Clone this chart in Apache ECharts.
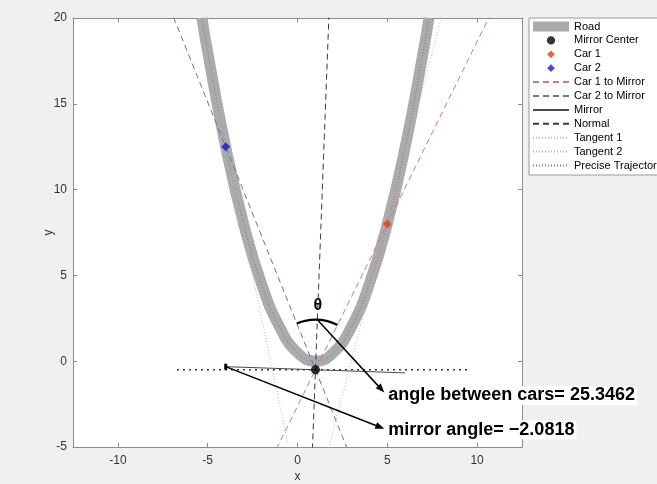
<!DOCTYPE html>
<html>
<head>
<meta charset="utf-8">
<script src="https://cdn.jsdelivr.net/npm/echarts@6/dist/echarts.min.js"></script>
<style>
  html, body { margin: 0; padding: 0; background: #f0f0f0; }
  #chart { width: 657px; height: 484px; }
</style>
</head>
<body>
<div id="chart"></div>
<script>
// Axis ticks
const xTicks = [-10, -5, 0, 5, 10];
const yTicks = [-5, 0, 5, 10, 15, 20];

// Road centre line (also the precise trajectory)
const roadX = [-5.32, -5, -4, -3, -2, -1, 0, 1, 2, 3, 4, 5, 6, 7, 7.32];
const roadY = [20, 18, 12.5, 8, 4.5, 2, 0.5, 0, 0.5, 2, 4.5, 8, 12.5, 18, 20];

// Points of interest
const mirrorCenter = [1, -0.5];
const car1 = [5, 8];
const car2 = [-4, 12.5];

// Road slopes at the two cars
const tangent1Slope = 4;
const tangent2Slope = -5;

// Angles (degrees)
const mirrorAngle = -2.0818;
const carsAngle = 25.3462;

// Mirror half length and extent of the horizontal reference line
const mirrorHalfLength = 5;
const levelLineX = [-6.7, 9.6];

const FONT = '"Liberation Sans", Arial, sans-serif';
const AXIS_GRAY = '#8c8c8c';

// Legend marker shapes, padded so they stay small inside the icon box
const DIAMOND_ICON = 'path://M-1.3,-1.3M0,-1L1,0L0,1L-1,0Z M1.3,1.3';
const CIRCLE_ICON = 'path://M-1.2,-1.2M0,-1A1,1,0,1,1,0,1A1,1,0,1,1,0,-1Z M1.2,1.2';

function zip(xs, ys) { return xs.map((x, i) => [x, ys[i]]); }

// Two far-apart points on the infinite line through p with direction d
function lineThrough(p, d) {
  const n = Math.hypot(d[0], d[1]);
  const t = 60;
  return [[p[0] - d[0] / n * t, p[1] - d[1] / n * t],
          [p[0] + d[0] / n * t, p[1] + d[1] / n * t]];
}

const rad = mirrorAngle * Math.PI / 180;
const mirrorDir = [Math.cos(rad), Math.sin(rad)];
const normalDir = [-Math.sin(rad), Math.cos(rad)];
const mirrorEnds = [
  [mirrorCenter[0] - mirrorDir[0] * mirrorHalfLength, mirrorCenter[1] - mirrorDir[1] * mirrorHalfLength],
  [mirrorCenter[0] + mirrorDir[0] * mirrorHalfLength, mirrorCenter[1] + mirrorDir[1] * mirrorHalfLength]
];

const road = zip(roadX, roadY);
const car1Line = lineThrough(mirrorCenter, [car1[0] - mirrorCenter[0], car1[1] - mirrorCenter[1]]);
const car2Line = lineThrough(mirrorCenter, [car2[0] - mirrorCenter[0], car2[1] - mirrorCenter[1]]);
const normalLine = lineThrough(mirrorCenter, normalDir);
const tangent1 = lineThrough(car1, [1, tangent1Slope]);
const tangent2 = lineThrough(car2, [1, tangent2Slope]);
const levelLine = levelLineX.map(x => [x, mirrorCenter[1]]);

const chart = echarts.init(document.getElementById('chart'), null, { renderer: 'canvas' });

const axisCommon = {
  type: 'value',
  splitLine: { show: false },
  nameMoveOverlap: false,
  axisLine: { onZero: false, lineStyle: { color: AXIS_GRAY, width: 1 } },
  axisTick: { inside: true, length: 4, lineStyle: { color: AXIS_GRAY } }
};

const noLegendSymbol = { opacity: 0 };

chart.setOption({
  backgroundColor: '#f0f0f0',
  animation: false,
  textStyle: { fontFamily: FONT },
  grid: { left: 73, top: 18, right: 135, bottom: 37, outerBoundsMode: 'none',
          show: true, backgroundColor: '#fff', borderWidth: 0 },
  legend: {
    orient: 'vertical',
    left: 529, top: 18,
    padding: [3, 40, 4, 3],
    itemWidth: 36, itemHeight: 10, itemGap: 2.9,
    symbolKeepAspect: true,
    backgroundColor: '#fff', borderColor: '#9a9a9a', borderWidth: 1, borderRadius: 0,
    selectedMode: false,
    textStyle: { fontSize: 11, color: '#000', fontFamily: FONT },
    data: [
      { name: 'Road', icon: 'rect' },
      { name: 'Mirror Center', icon: CIRCLE_ICON },
      { name: 'Car 1', icon: DIAMOND_ICON },
      { name: 'Car 2', icon: DIAMOND_ICON },
      { name: 'Car 1 to Mirror', itemStyle: noLegendSymbol },
      { name: 'Car 2 to Mirror', itemStyle: noLegendSymbol },
      { name: 'Mirror', itemStyle: noLegendSymbol },
      { name: 'Normal', itemStyle: noLegendSymbol },
      { name: 'Tangent 1', itemStyle: noLegendSymbol },
      { name: 'Tangent 2', itemStyle: noLegendSymbol },
      { name: 'Precise Trajectory', itemStyle: noLegendSymbol }
    ]
  },
  xAxis: [
    Object.assign({}, axisCommon, {
      min: -12.5, max: 12.5, position: 'bottom',
      name: 'x', nameLocation: 'middle', nameGap: 24,
      nameTextStyle: { color: '#333', fontSize: 12 },
      axisTick: Object.assign({}, axisCommon.axisTick, { customValues: xTicks }),
      axisLabel: { customValues: xTicks, color: '#333', fontSize: 12, margin: 8 }
    }),
    Object.assign({}, axisCommon, {
      min: -12.5, max: 12.5, position: 'top',
      axisTick: Object.assign({}, axisCommon.axisTick, { customValues: xTicks }),
      axisLabel: { show: false }
    })
  ],
  yAxis: [
    Object.assign({}, axisCommon, {
      min: -5, max: 20, interval: 5, position: 'left',
      name: 'y', nameLocation: 'middle', nameGap: 18,
      nameTextStyle: { color: '#333', fontSize: 12 },
      axisTick: Object.assign({}, axisCommon.axisTick, { customValues: yTicks }),
      axisLabel: { customValues: yTicks, color: '#333', fontSize: 12, margin: 6 }
    }),
    Object.assign({}, axisCommon, {
      min: -5, max: 20, interval: 5, position: 'right',
      axisTick: Object.assign({}, axisCommon.axisTick, { customValues: yTicks }),
      axisLabel: { show: false }
    })
  ],
  series: [
    { name: 'Road', type: 'line', data: road, smooth: true, symbol: 'none', z: 1,
      itemStyle: { color: '#ababab' }, lineStyle: { color: '#ababab', width: 11 } },
    { name: 'Precise Trajectory', type: 'line', data: road, smooth: true, symbol: 'none', z: 2,
      itemStyle: { color: '#7a7a7a' }, lineStyle: { color: '#7a7a7a', width: 1, type: [1, 2] } },
    { name: 'Car 1 to Mirror', type: 'line', data: car1Line, symbol: 'none', z: 3,
      itemStyle: { color: '#cf7a80' }, lineStyle: { color: '#cf7a80', width: 1, type: [6, 4] } },
    { name: 'Car 2 to Mirror', type: 'line', data: car2Line, symbol: 'none', z: 3,
      itemStyle: { color: '#6f6fb4' }, lineStyle: { color: '#6f6fb4', width: 1, type: [6, 4] } },
    { name: 'Normal', type: 'line', data: normalLine, symbol: 'none', z: 3,
      itemStyle: { color: '#3a3a3a' }, lineStyle: { color: '#3a3a3a', width: 1, type: [6, 4] } },
    { name: 'Tangent 1', type: 'line', data: tangent1, symbol: 'none', z: 3,
      itemStyle: { color: '#d6aeb0' }, lineStyle: { color: '#d6aeb0', width: 1, type: [1, 2] } },
    { name: 'Tangent 2', type: 'line', data: tangent2, symbol: 'none', z: 3,
      itemStyle: { color: '#b4b4c4' }, lineStyle: { color: '#b4b4c4', width: 1, type: [1, 2] } },
    { name: 'level', type: 'line', data: levelLine, symbol: 'none', z: 3,
      lineStyle: { color: '#000', width: 1.6, type: [1.6, 4.4] } },
    { name: 'Mirror', type: 'line', data: mirrorEnds, symbol: 'none', z: 4,
      itemStyle: { color: '#4a4a4a' }, lineStyle: { color: '#4a4a4a', width: 1 } },
    { name: 'Mirror Center', type: 'scatter', data: [mirrorCenter], symbol: 'circle', symbolSize: 9, z: 6,
      itemStyle: { color: '#000' } },
    { name: 'Car 1', type: 'scatter', data: [car1], symbol: 'diamond', symbolSize: 9, z: 6,
      itemStyle: { color: '#e23d18' } },
    { name: 'Car 2', type: 'scatter', data: [car2], symbol: 'diamond', symbolSize: 9, z: 6,
      itemStyle: { color: '#1a1acc' } }
  ]
});

// Annotations: angle arc, theta, arrows and value labels
const px = p => chart.convertToPixel({ xAxisIndex: 0, yAxisIndex: 0 }, p);
const pc = px(mirrorCenter);
const p1 = px(car1);
const p2 = px(car2);
const pn = px([mirrorCenter[0] + normalDir[0], mirrorCenter[1] + normalDir[1]]);
const nLen = Math.hypot(pn[0] - pc[0], pn[1] - pc[1]);
const nPix = [(pn[0] - pc[0]) / nLen, (pn[1] - pc[1]) / nLen];
const a1 = Math.atan2(p1[1] - pc[1], p1[0] - pc[0]);
const a2 = Math.atan2(p2[1] - pc[1], p2[0] - pc[0]);
const arcR = 50;

function arrow(a, b) {
  const dx = b[0] - a[0], dy = b[1] - a[1], L = Math.hypot(dx, dy);
  const ux = dx / L, uy = dy / L, hl = 9, hw = 3.5;
  const base = [b[0] - ux * hl, b[1] - uy * hl];
  return [
    { type: 'line', z: 100, shape: { x1: a[0], y1: a[1], x2: base[0] + ux * 2, y2: base[1] + uy * 2 },
      style: { stroke: '#000', lineWidth: 1.5 } },
    { type: 'polygon', z: 100,
      shape: { points: [b, [base[0] - uy * hw, base[1] + ux * hw], [base[0] + uy * hw, base[1] - ux * hw]] },
      style: { fill: '#000' } }
  ];
}

const fmt = v => String(v).replace('-', '\u2212');
const t1 = px([5, -2]);
const t2 = px([5, -4]);
const arcTop = [pc[0] + nPix[0] * arcR, pc[1] + nPix[1] * arcR];
const thetaPos = [pc[0] + nPix[0] * 64, pc[1] + nPix[1] * 64];
const pm = px(mirrorEnds[0]);

const graphics = [
  { type: 'arc', z: 100, shape: { cx: pc[0], cy: pc[1], r: arcR, startAngle: a2, endAngle: a1, clockwise: true },
    style: { stroke: '#000', lineWidth: 2.2, fill: null } },
  { type: 'text', z: 100, x: thetaPos[0], y: thetaPos[1],
    style: { text: '\u03b8', font: 'bold 16px ' + FONT, fill: '#000', align: 'center', verticalAlign: 'middle' } },
  { type: 'rect', z: 100, shape: { x: pm[0] - 1.5, y: pm[1] - 3, width: 3, height: 6 }, style: { fill: '#000' } }
].concat(
  arrow(arcTop, [t1[0] - 3, t1[1] - 3]),
  arrow(pm, [t2[0] - 3, t2[1] - 1]),
  [
    { type: 'text', z: 101, x: t1[0], y: t1[1],
      style: { text: 'angle between cars= ' + fmt(carsAngle), font: 'bold 18px ' + FONT, fill: '#000',
               align: 'left', verticalAlign: 'middle', backgroundColor: '#fff', padding: [1, 2, 0, 1] } },
    { type: 'text', z: 101, x: t2[0], y: t2[1],
      style: { text: 'mirror angle= ' + fmt(mirrorAngle), font: 'bold 18px ' + FONT, fill: '#000',
               align: 'left', verticalAlign: 'middle', backgroundColor: '#fff', padding: [1, 2, 0, 1] } }
  ]
);

chart.setOption({ graphic: graphics });
</script>
</body>
</html>
